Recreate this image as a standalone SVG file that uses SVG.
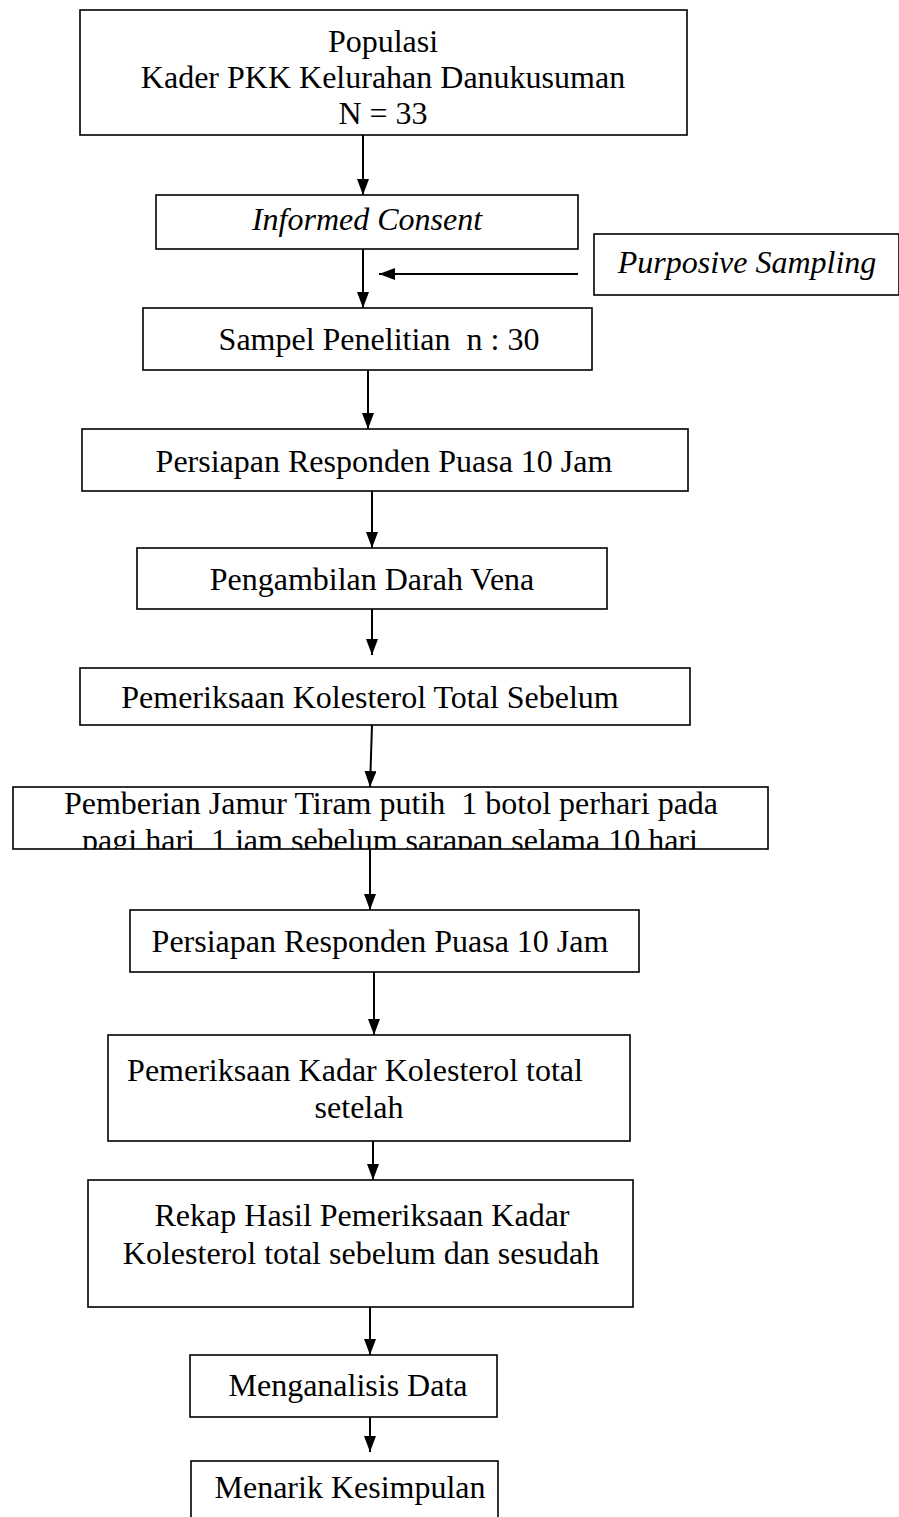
<svg xmlns="http://www.w3.org/2000/svg" width="899" height="1517" viewBox="0 0 899 1517">
<style>
.box{fill:#fff;stroke:#000;stroke-width:1.6}
.t{font-family:"Liberation Serif","Times New Roman",serif;font-size:32px;fill:#000;text-anchor:middle}
.i{font-style:italic}
.c{stroke:#000;stroke-width:2;fill:none}
</style>
<defs>
<marker id="ah" markerWidth="16" markerHeight="12" refX="16" refY="6" orient="auto" markerUnits="userSpaceOnUse" viewBox="0 0 16 12">
<path d="M0,0 L16,6 L0,12 Z" fill="#000"/>
</marker>
<clipPath id="clip8"><rect x="13" y="787" width="755" height="62"/></clipPath>
</defs>
<rect width="899" height="1517" fill="#fff"/>
<g id="connectors">
<line class="c" x1="363" y1="135" x2="363" y2="195" marker-end="url(#ah)"/>
<line class="c" x1="363" y1="249" x2="363" y2="308" marker-end="url(#ah)"/>
<line class="c" x1="578" y1="274" x2="379" y2="274" marker-end="url(#ah)"/>
<line class="c" x1="368" y1="370" x2="368" y2="429" marker-end="url(#ah)"/>
<line class="c" x1="372" y1="491" x2="372" y2="548" marker-end="url(#ah)"/>
<line class="c" x1="372" y1="609" x2="372" y2="655" marker-end="url(#ah)"/>
<line class="c" x1="372" y1="725" x2="370" y2="787" marker-end="url(#ah)"/>
<line class="c" x1="370" y1="849" x2="370" y2="910" marker-end="url(#ah)"/>
<line class="c" x1="374" y1="972" x2="374" y2="1035" marker-end="url(#ah)"/>
<line class="c" x1="373" y1="1141" x2="373" y2="1180" marker-end="url(#ah)"/>
<line class="c" x1="370" y1="1307" x2="370" y2="1355" marker-end="url(#ah)"/>
<line class="c" x1="370" y1="1417" x2="370" y2="1452" marker-end="url(#ah)"/>
</g>
<g id="n1"><rect class="box" x="80" y="10" width="607" height="125"/>
<text class="t" x="383" y="52">Populasi</text>
<text class="t" x="383" y="88">Kader PKK Kelurahan Danukusuman</text>
<text class="t" x="383" y="124">N = 33</text></g>
<g id="n2"><rect class="box" x="156" y="195" width="422" height="54"/>
<text class="t i" x="367" y="230">Informed Consent</text></g>
<g id="n3"><rect class="box" x="594" y="234" width="305" height="61"/>
<text class="t i" x="747" y="273">Purposive Sampling</text></g>
<g id="n4"><rect class="box" x="143" y="308" width="449" height="62"/>
<text class="t" x="379" y="350" xml:space="preserve">Sampel Penelitian  n : 30</text></g>
<g id="n5"><rect class="box" x="82" y="429" width="606" height="62"/>
<text class="t" x="384" y="472">Persiapan Responden Puasa 10 Jam</text></g>
<g id="n6"><rect class="box" x="137" y="548" width="470" height="61"/>
<text class="t" x="372" y="590">Pengambilan Darah Vena</text></g>
<g id="n7"><rect class="box" x="80" y="668" width="610" height="57"/>
<text class="t" x="370" y="708">Pemeriksaan Kolesterol Total Sebelum</text></g>
<g id="n8"><rect class="box" x="13" y="787" width="755" height="62"/>
<g clip-path="url(#clip8)">
<text class="t" x="391" y="814" xml:space="preserve">Pemberian Jamur Tiram putih  1 botol perhari pada</text>
<text class="t" x="390" y="851" xml:space="preserve">pagi hari  1 jam sebelum sarapan selama 10 hari</text></g></g>
<g id="n9"><rect class="box" x="130" y="910" width="509" height="62"/>
<text class="t" x="380" y="952">Persiapan Responden Puasa 10 Jam</text></g>
<g id="n10"><rect class="box" x="108" y="1035" width="522" height="106"/>
<text class="t" x="355" y="1081">Pemeriksaan Kadar Kolesterol total</text>
<text class="t" x="359" y="1118">setelah</text></g>
<g id="n11"><rect class="box" x="88" y="1180" width="545" height="127"/>
<text class="t" x="362" y="1226">Rekap Hasil Pemeriksaan Kadar</text>
<text class="t" x="361" y="1264">Kolesterol total sebelum dan sesudah</text></g>
<g id="n12"><rect class="box" x="190" y="1355" width="307" height="62"/>
<text class="t" x="348" y="1396">Menganalisis Data</text></g>
<g id="n13"><rect class="box" x="191" y="1461" width="307" height="60"/>
<text class="t" x="350" y="1498">Menarik Kesimpulan</text></g>
</svg>
